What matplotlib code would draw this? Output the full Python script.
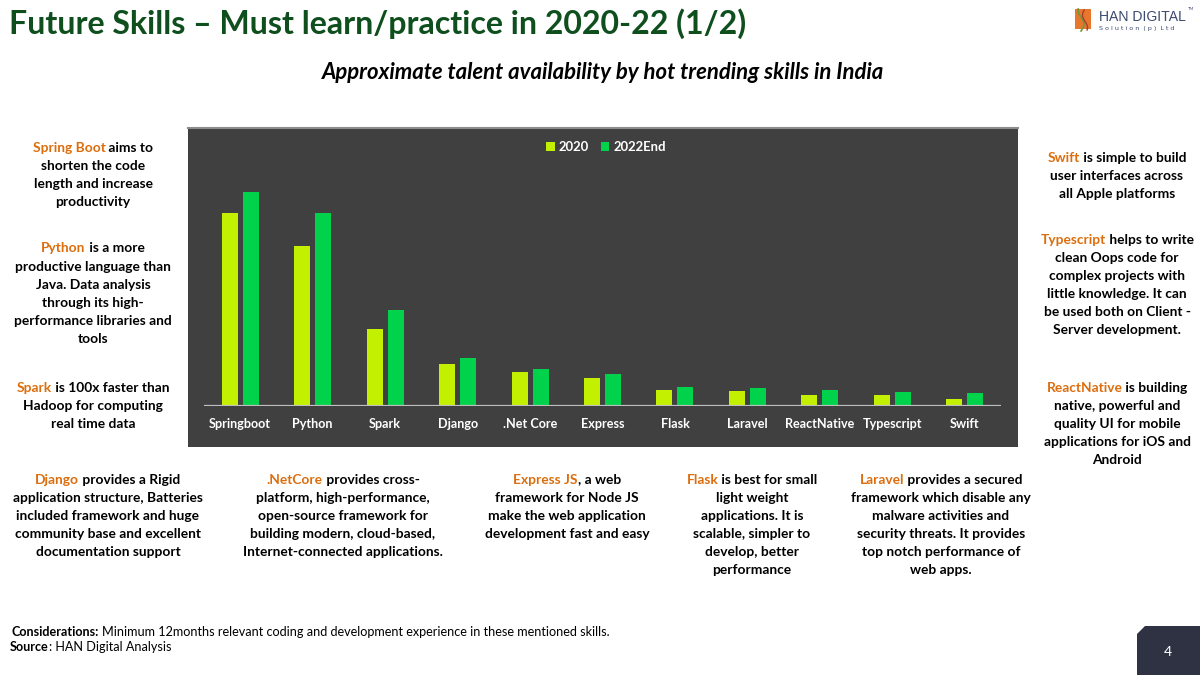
import matplotlib
matplotlib.use("Agg")
import matplotlib.pyplot as plt
import numpy as np
from matplotlib.patches import Rectangle, Polygon

# ---------------- data ----------------
categories = ["Springboot", "Python", "Spark", "Django", ".Net Core", "Express",
              "Flask", "Laravel", "ReactNative", "Typescript", "Swift"]
series_names = ["2020", "2022End"]
values_2020 = [193, 160, 77, 42, 34, 28, 16, 15, 11, 11, 7]
values_2022 = [214, 193, 96, 48, 37, 32, 19, 18, 16, 14, 13]

title = "Future Skills \u2013 Must learn/practice in 2020-22 (1/2)"
subtitle = "Approximate talent availability by hot trending skills in India"

# (key, lines) blocks of notes
notes_left = [
    ("Spring Boot", ["Spring Boot aims to", "shorten the code", "length and increase", "productivity"]),
    ("Python", ["Python is a more", "productive language than", "Java. Data analysis",
                "through its high-", "performance libraries and", "tools"]),
    ("Spark", ["Spark is 100x faster than", "Hadoop for computing", "real time data"]),
]
notes_right = [
    ("Swift", ["Swift is simple to build", "user interfaces across", "all Apple platforms"]),
    ("Typescript", ["Typescript helps to write", "clean Oops code for", "complex projects with",
                    "little knowledge. It can", "be used both on Client -", "Server development."]),
    ("ReactNative", ["ReactNative is building", "native, powerful and", "quality UI for mobile",
                     "applications for iOS and", "Android"]),
]
notes_bottom = [
    ("Django", ["Django provides a Rigid", "application structure, Batteries",
                "included framework and huge", "community base and excellent",
                "documentation support"]),
    (".NetCore", [".NetCore provides cross-", "platform, high-performance,",
                  "open-source framework for", "building modern, cloud-based,",
                  "Internet-connected applications."]),
    ("Express JS", ["Express JS, a web", "framework for Node JS", "make the web application",
                    "development fast and easy"]),
    ("Flask", ["Flask is best for small", "light weight", "applications. It is",
               "scalable, simpler to", "develop, better", "performance"]),
    ("Laravel", ["Laravel provides a secured", "framework which disable any",
                 "malware activities and", "security threats. It provides",
                 "top notch performance of", "web apps."]),
]
considerations = ("Considerations:", " Minimum 12months relevant coding and development experience in these mentioned skills.")
source = ("Source", ": HAN Digital Analysis")
page_no = "4"

# ---------------- style ----------------
FONT = "Lato"
W, H = 1200, 675
C2020 = "#C3F000"
C2022 = "#00D34B"
ORANGE = "#DC6E0E"
GREEN_TITLE = "#0F4F1E"
BOXBG = "#404040"

plt.rcParams["font.family"] = [FONT, "DejaVu Sans"]
fig = plt.figure(figsize=(12, 6.75), dpi=100)
fig.patch.set_facecolor("white")
renderer = fig.canvas.get_renderer()


def fx(x):
    return x / W


def fy(y):
    return 1 - y / H


def twidth(s, size, weight="bold", style="normal"):
    t = fig.text(0, 0, s, fontsize=size, fontweight=weight, fontstyle=style)
    w = t.get_window_extent(renderer).width
    t.remove()
    return w


def fit(s, target, weight="bold", style="normal"):
    return 20 * target / twidth(s, 20, weight, style)


# ---------------- chart box ----------------
fig.patches.append(Rectangle((fx(188), fy(447)), (1018 - 188) / W, (447 - 127) / H,
                             transform=fig.transFigure, facecolor=BOXBG, edgecolor="none", zorder=-5))
fig.add_artist(plt.Line2D([fx(188), fx(1018)], [fy(127.5), fy(127.5)], transform=fig.transFigure,
                          color="#8C8C8C", lw=1.5, zorder=-4))

ax = fig.add_axes([fx(204), fy(406), (1001 - 204) / W, (406 - 140) / H])
ax.set_zorder(2)
ax.set_facecolor("none")
x = np.arange(len(categories))
bw = 0.22
ax.bar(x - 0.145, values_2020, width=bw, color=C2020, label=series_names[0], zorder=2)
ax.bar(x + 0.145, values_2022, width=bw, color=C2022, label=series_names[1], zorder=2)
ax.set_xlim(-0.5, len(categories) - 0.5)
ax.set_ylim(0, 266)
for sp in ax.spines.values():
    sp.set_visible(False)
ax.axhline(0, color="#BFBFBF", lw=1.6, zorder=3)
ax.set_yticks([])
tick_size = fit("Springboot", 62)
ax.set_xticks(x, categories)
ax.tick_params(axis="x", length=0, pad=9, labelsize=tick_size, labelcolor="white")
for lab in ax.get_xticklabels():
    lab.set_fontweight("bold")

leg = ax.legend(loc="center", bbox_to_anchor=(fx(606), fy(147)), bbox_transform=fig.transFigure,
                ncol=2, frameon=False, fontsize=fit("2022End", 53), handlelength=0.65,
                handleheight=0.65, handletextpad=0.3, columnspacing=0.9, borderpad=0)
for t in leg.get_texts():
    t.set_color("white")
    t.set_fontweight("bold")

# ---------------- titles ----------------
fig.text(fx(9), fy(34), title, fontsize=fit(title, 739), fontweight="bold",
         color=GREEN_TITLE, ha="left", va="baseline")
fig.text(fx(603.5), fy(79), subtitle, fontsize=fit(subtitle, 563, style="italic"),
         fontweight="bold", fontstyle="italic", color="black", ha="center", va="baseline")

# ---------------- notes ----------------
note_size = fit("application structure, Batteries", 190)
LS = 18.1


def draw_block(cx, y0, key, lines):
    for i, line in enumerate(lines):
        yb = fy(y0 + i * LS + 4.5)
        if i == 0 and line.startswith(key):
            wfull = twidth(line, note_size)
            rest = line[len(key):]
            fig.text(fx(cx - wfull / 2), yb, key, fontsize=note_size, fontweight="bold",
                     color=ORANGE, ha="left", va="baseline")
            fig.text(fx(cx + wfull / 2), yb, rest, fontsize=note_size, fontweight="bold",
                     color="black", ha="right", va="baseline")
        else:
            fig.text(fx(cx), yb, line, fontsize=note_size, fontweight="bold",
                     color="black", ha="center", va="baseline")


for (key, lines), y0 in zip(notes_left, [147, 248, 387]):
    draw_block(93, y0, key, lines)
for (key, lines), y0 in zip(notes_right, [157, 239, 387]):
    draw_block(1117, y0, key, lines)
for (key, lines), cx in zip(notes_bottom, [108, 343, 567, 752, 941]):
    draw_block(cx, 479, key, lines)

# ---------------- footer ----------------
foot_size = fit(considerations[0] + considerations[1], 605, weight="normal") * 0.99


def draw_left_mixed(x0, ybase, bold, regular):
    wb = twidth(bold, foot_size)
    sp = twidth("a a", foot_size, "normal") - twidth("aa", foot_size, "normal")
    fig.text(fx(x0), fy(ybase), bold, fontsize=foot_size, fontweight="bold",
             color="black", ha="left", va="baseline")
    lead = len(regular) - len(regular.lstrip(" "))
    fig.text(fx(x0 + wb + 0.5 + sp * lead * 0.8), fy(ybase), regular.lstrip(" "), fontsize=foot_size,
             fontweight="normal", color="black", ha="left", va="baseline")


draw_left_mixed(12, 636, considerations[0], considerations[1])
draw_left_mixed(10, 651, source[0], source[1])

# page number box
fig.patches.append(Polygon([(fx(1137), fy(675)), (fx(1137), fy(634)), (fx(1145), fy(626)),
                            (fx(1200), fy(626)), (fx(1200), fy(675))], closed=True,
                           transform=fig.transFigure, facecolor="#2E3243", edgecolor="none"))
fig.text(fx(1168), fy(652), page_no, fontsize=10, color="white", ha="center", va="center")

# ---------------- logo ----------------
fig.patches.append(Rectangle((fx(1075), fy(29)), 16 / W, 20 / H, transform=fig.transFigure,
                             facecolor="#E8772E", edgecolor="none"))
tt = np.linspace(0, 1, 30)
fig.add_artist(plt.Line2D(fx(1081 + 3 * np.sin(tt * 5)), fy(31 - 22 * tt), transform=fig.transFigure,
                          color="#6E9A3A", lw=1.2))
fig.add_artist(plt.Line2D(fx(1085 + 2.5 * np.sin(tt * 5 + 1)), fy(30 - 20 * tt), transform=fig.transFigure,
                          color="#B03A2E", lw=1.0))
fig.text(fx(1099), fy(21), "HAN DIGITAL", fontsize=fit("HAN DIGITAL", 88, weight="normal"),
         color="#3B4A70", ha="left", va="baseline", family="Liberation Sans")
fig.text(fx(1099), fy(30), "S o l u t i o n  ( p )  L t d", fontsize=4.6,
         color="#3B4A70", ha="left", va="baseline", family="DejaVu Sans")
fig.text(fx(1188), fy(10), "TM", fontsize=3, color="#3B4A70", ha="left", va="baseline")

fig.savefig("out.png", dpi=100, facecolor="white")
